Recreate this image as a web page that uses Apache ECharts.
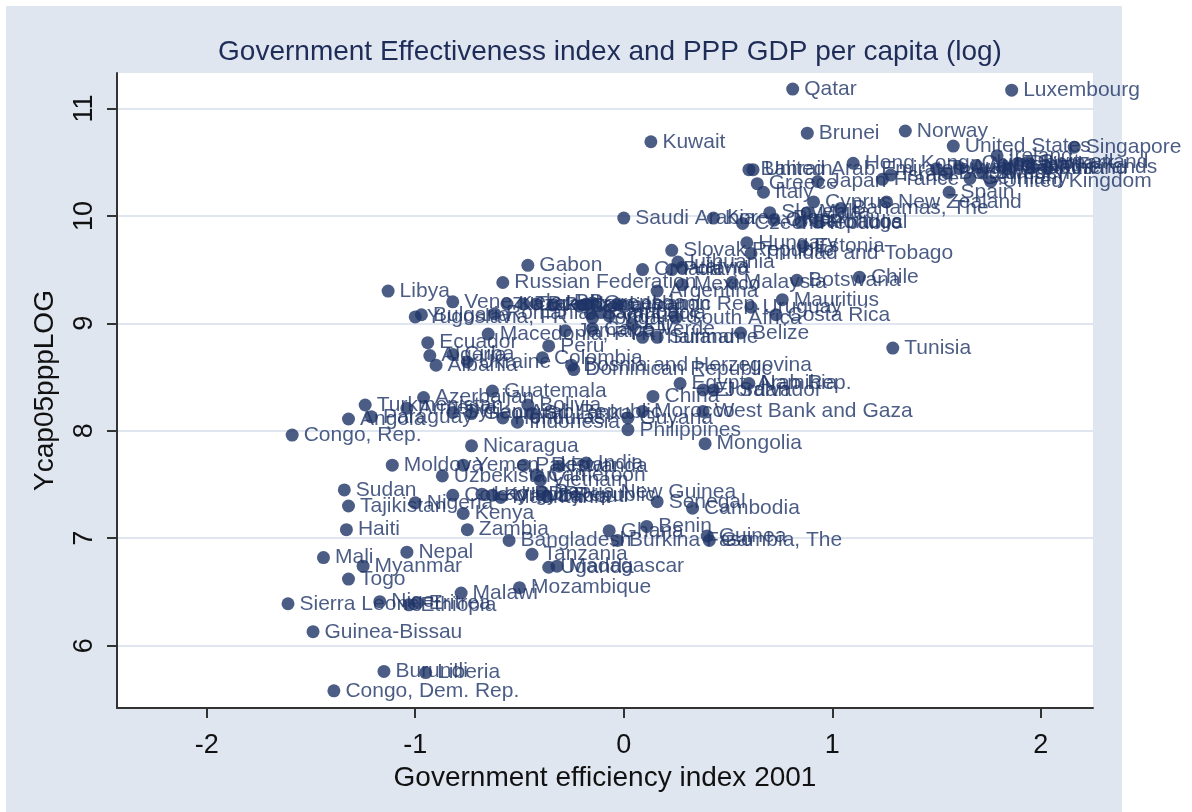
<!DOCTYPE html>
<html>
<head>
<meta charset="utf-8">
<script src="https://cdn.jsdelivr.net/npm/echarts@6/dist/echarts.min.js"></script>
<style>html,body{margin:0;padding:0;background:#fff}#c{width:1192px;height:812px}</style>
</head>
<body>
<div id="c"></div>
<script>
const countries = [
"Qatar","Luxembourg","Kuwait","Brunei","Norway","United States","Singapore","Hong Kong, China",
"Bahrain","United Arab Emirates","Greece","Italy","Japan","France","Israel","Taiwan",
"Belgium","Austria","Germany","Australia","Sweden","United Kingdom","Ireland","Iceland",
"Canada","Denmark","Switzerland","Netherlands","Finland","Spain","New Zealand","Cyprus",
"Bahamas, The","Slovenia","Malta","Korea, Rep.","Czech Republic","Oman","Barbados","Portugal",
"Saudi Arabia","Hungary","Estonia","Trinidad and Tobago","Slovak Republic","Lithuania","Latvia","Croatia",
"Poland","Gabon","Russian Federation","Mexico","Malaysia","Argentina","Botswana","Chile",
"Mauritius","Libya","Venezuela, RB","Uruguay","Costa Rica","South Africa","Lebanon","Iran, Islamic Rep.",
"Belize","Thailand","Suriname","Tunisia","Egypt, Arab Rep.","Namibia","El Salvador","Jordan",
"China","Morocco","West Bank and Gaza","Guyana","Philippines","Mongolia","Kazakhstan","Romania",
"Turkey","Brazil","Panama","Dominica","Grenada","Saint Lucia","Samoa","Tonga",
"Vanuatu","Cape Verde","Fiji","Jamaica","Bulgaria","Yugoslavia, FR","Macedonia, FYR","Peru",
"Ecuador","Algeria","Cuba","Albania","Ukraine","Colombia","Bosnia and Herzegovina","Dominican Republic",
"Guatemala","Azerbaijan","Turkmenistan","Armenia","Syrian Arab Republic","Paraguay","Angola","Congo, Rep.",
"Georgia","Bolivia","Sri Lanka","Honduras","Indonesia","Nicaragua","Moldova","Yemen, Rep.",
"Pakistan","Rwanda","India","Uzbekistan","Cameroon","Vietnam","Lao PDR","Kyrgyz Republic",
"Mauritania","Papua New Guinea","Djibouti","Sudan","Tajikistan","Nigeria","Cote d'Ivoire","Kenya",
"Senegal","Cambodia","Haiti","Zambia","Bangladesh","Ghana","Benin","Burkina Faso",
"Guinea","Gambia, The","Mali","Nepal","Tanzania","Uganda","Madagascar","Myanmar",
"Togo","Malawi","Mozambique","Sierra Leone","Niger","Eritrea","Ethiopia","Guinea-Bissau",
"Burundi","Liberia","Congo, Dem. Rep."
];
const govEff = [
0.81,1.86,0.13,0.88,1.35,1.58,2.16,1.10,
0.60,0.62,0.64,0.67,0.93,1.24,1.28,1.50,
1.55,1.61,1.66,1.69,1.72,1.76,1.79,1.82,
1.85,1.89,1.94,1.96,2.03,1.56,1.26,0.91,
1.04,0.70,0.88,0.43,0.57,0.72,0.85,0.93,
0.00,0.59,0.86,0.61,0.23,0.26,0.28,0.09,
0.23,-0.46,-0.58,0.28,0.52,0.16,0.83,1.13,
0.76,-1.13,-0.82,0.61,0.73,0.25,-0.03,-0.18,
0.56,0.09,0.16,1.29,0.27,0.60,0.38,0.43,
0.14,0.09,0.38,0.02,0.02,0.39,-0.56,-0.62,
-0.48,-0.42,-0.34,-0.21,-0.15,-0.16,-0.11,-0.15,
-0.07,-0.15,0.04,-0.28,-0.97,-1.00,-0.65,-0.36,
-0.94,-0.93,-0.82,-0.90,-0.75,-0.39,-0.25,-0.24,
-0.63,-0.96,-1.24,-1.04,-0.82,-1.21,-1.32,-1.59,
-0.73,-0.46,-0.44,-0.58,-0.51,-0.73,-1.11,-0.77,
-0.48,-0.31,-0.18,-0.87,-0.42,-0.40,-0.68,-0.63,
-0.59,-0.39,-0.37,-1.34,-1.32,-1.00,-0.82,-0.77,
0.16,0.33,-1.33,-0.75,-0.55,-0.07,0.11,-0.03,
0.40,0.41,-1.44,-1.04,-0.44,-0.36,-0.32,-1.25,
-1.32,-0.78,-0.50,-1.61,-1.17,-0.99,-1.03,-1.49,
-1.15,-0.95,-1.39
];
const gdpLog = [
11.18,11.17,10.69,10.77,10.79,10.65,10.64,10.49,
10.43,10.43,10.30,10.22,10.32,10.34,10.38,10.44,
10.40,10.45,10.35,10.47,10.40,10.32,10.56,10.47,
10.44,10.49,10.50,10.45,10.44,10.22,10.13,10.13,
10.07,10.03,10.03,9.98,9.93,9.96,9.94,9.94,
9.98,9.75,9.72,9.65,9.68,9.57,9.52,9.50,
9.50,9.54,9.38,9.36,9.38,9.30,9.40,9.43,
9.22,9.30,9.20,9.15,9.08,9.05,9.18,9.18,
8.91,8.87,8.87,8.77,8.44,8.44,8.38,8.38,
8.32,8.18,8.18,8.12,8.01,7.88,9.18,9.09,
9.18,9.18,9.17,9.16,9.19,9.09,9.10,9.05,
9.07,8.95,8.99,8.93,9.08,9.06,8.90,8.79,
8.82,8.70,8.71,8.61,8.64,8.68,8.61,8.57,
8.37,8.31,8.24,8.21,8.17,8.13,8.11,7.96,
8.16,8.24,8.16,8.12,8.08,7.86,7.68,7.68,
7.68,7.67,7.70,7.58,7.59,7.54,7.41,7.40,
7.38,7.43,7.39,7.45,7.30,7.33,7.40,7.23,
7.34,7.28,7.08,7.08,6.98,7.07,7.11,6.98,
7.02,6.98,6.82,6.87,6.85,6.73,6.74,6.74,
6.62,6.49,6.54,6.39,6.41,6.40,6.38,6.13,
5.76,5.75,5.58
];
const xTicks = [-2,-1,0,1,2];
const yTicks = [6,7,8,9,10,11];

const navy = '#1f3566';
const points = countries.map((c,i)=>({name:c, value:[govEff[i], gdpLog[i]]}));
const chart = echarts.init(document.getElementById('c'), null, {renderer:'canvas'});
const FF = 'Liberation Sans, Arial, sans-serif';
chart.setOption({
  backgroundColor:'#ffffff',
  animation:false,
  graphic:[{type:'rect', z:-100, silent:true, shape:{x:6,y:6,width:1116,height:806}, style:{fill:'#e0e6f0'}}],
  title:{text:'Government Effectiveness index and PPP GDP per capita (log)', left:605, top:33, textAlign:'center',
    textStyle:{color:'#1e2c58', fontSize:28, fontWeight:'normal', fontFamily:FF}},
  grid:{left:117, right:99, top:73, bottom:104, show:true, backgroundColor:'#ffffff', borderWidth:0, containLabel:false},
  xAxis:{type:'value', min:-2.43, max:2.25,
    name:'Government efficiency index 2001', nameLocation:'middle', nameGap:46,
    nameTextStyle:{color:'#111', fontSize:28, fontFamily:FF},
    axisLine:{show:true, onZero:false, lineStyle:{color:'#333', width:2}},
    axisTick:{show:true, length:10, customValues:xTicks, lineStyle:{color:'#333', width:2}},
    axisLabel:{customValues:xTicks, color:'#111', fontSize:27, fontFamily:FF, margin:24},
    splitLine:{show:false}},
  yAxis:{type:'value', min:5.42, max:11.33,
    name:'Ycap05pppLOG', nameLocation:'middle', nameGap:58, nameRotate:90,
    nameTextStyle:{color:'#111', fontSize:28, fontFamily:FF},
    axisLine:{show:true, onZero:false, lineStyle:{color:'#333', width:2}},
    axisTick:{show:true, length:10, customValues:yTicks, lineStyle:{color:'#333', width:2}},
    axisLabel:{customValues:yTicks, rotate:90, color:'#111', fontSize:27, fontFamily:FF, margin:19},
    splitLine:{show:true, lineStyle:{color:'#e0e6f0', width:2}}},
  series:[{type:'scatter', data:points, symbol:'circle', symbolSize:13, clip:false,
    itemStyle:{color:navy},
    label:{show:true, position:'right', distance:5, formatter:'{b}', color:'#1f3566', fontSize:21, fontFamily:FF}}]
});
</script>
</body>
</html>
